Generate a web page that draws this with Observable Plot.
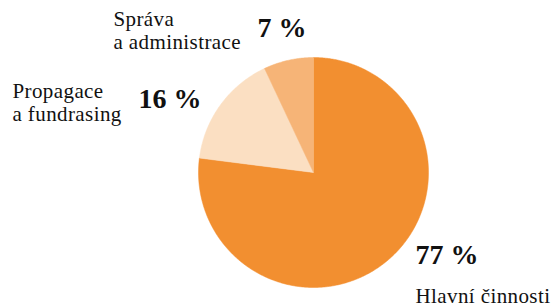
<!DOCTYPE html>
<html>
<head>
<meta charset="utf-8">
<script src="https://cdn.jsdelivr.net/npm/d3@7"></script>
<script src="https://cdn.jsdelivr.net/npm/@observablehq/plot@0.6"></script>
<style>
  html, body { margin: 0; padding: 0; background: #fff; }
  svg text { font-family: "Liberation Serif", "DejaVu Serif", serif; }
  svg g.names text { letter-spacing: 0.4px; }
</style>
</head>
<body>
<div id="chart"></div>
<script>
// Data
const categories = ["Hlavní činnosti", "Propagace a fundrasing", "Správa a administrace"];
const values = [77, 16, 7];
const colors = ["#F28F30", "#FBDFC2", "#F6B477"];
const nameLabels = ["Hlavní činnosti", "Propagace\na fundrasing", "Správa\na administrace"];
const pctLabels = values.map(v => v + " %");

// Layout
const W = 553, H = 306;
const cx = 313, cy = 172, r = 115;
const namePos = [[415, 302], [12, 120], [113, 48]];
const pctPos = [[415, 263], [138, 107], [257, 36]];

const arcs = d3.pie().sort(null).value(d => d)(values);
const slices = arcs.map((a, i) => {
  const pts = [{x: cx, y: cy}];
  const n = Math.max(2, Math.ceil((a.endAngle - a.startAngle) / (Math.PI / 360)));
  for (let k = 0; k <= n; k++) {
    const t = a.startAngle + (a.endAngle - a.startAngle) * k / n;
    pts.push({x: cx + r * Math.sin(t), y: cy - r * Math.cos(t)});
  }
  pts.push({x: cx, y: cy});
  return {points: pts, color: colors[i]};
});

const nameData = categories.map((c, i) => ({label: nameLabels[i], x: namePos[i][0], y: namePos[i][1]}));
const pctData = categories.map((c, i) => ({label: pctLabels[i], x: pctPos[i][0], y: pctPos[i][1]}));

const chart = Plot.plot({
  width: W, height: H,
  margin: 0,
  x: {domain: [0, W], range: [0, W], axis: null},
  y: {domain: [0, H], range: [0, H], axis: null},
  marks: [
    ...slices.map(s => Plot.line(s.points, {x: "x", y: "y", fill: s.color, stroke: s.color, strokeWidth: 0.5})),
    Plot.text(nameData, {x: "x", y: "y", text: "label", textAnchor: "start", lineAnchor: "bottom",
      fontSize: 21, lineHeight: 1.05, fill: "#111", className: "names"}),
    Plot.text(pctData, {x: "x", y: "y", text: "label", textAnchor: "start", lineAnchor: "bottom",
      fontSize: 28, fontWeight: "bold", fill: "#111"})
  ]
});
document.getElementById("chart").appendChild(chart);
</script>
</body>
</html>
